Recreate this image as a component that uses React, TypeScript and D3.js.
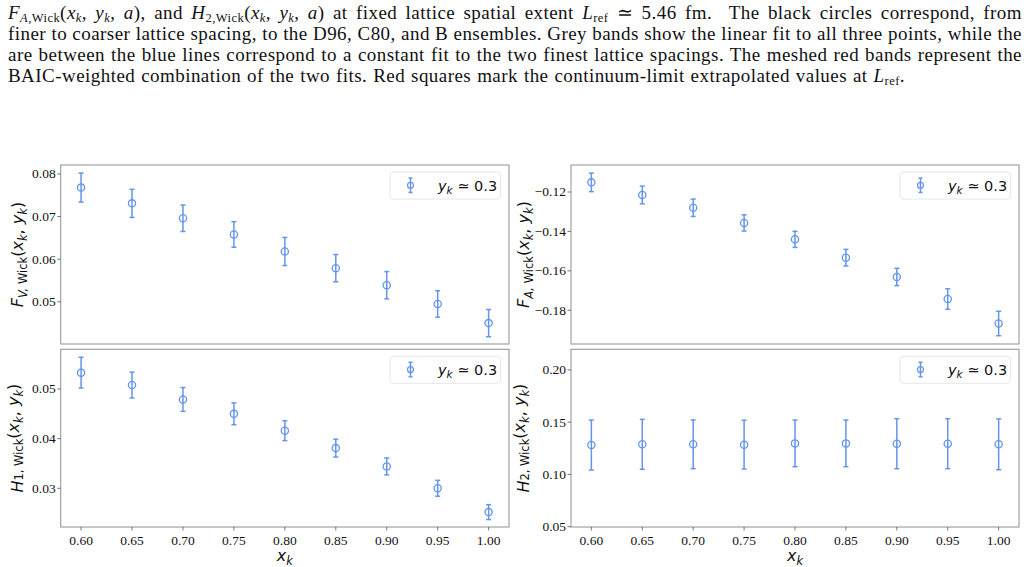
import React, { useLayoutEffect, useRef, useState } from "react";
import * as d3 from "d3";

const xk = [0.6, 0.65, 0.7, 0.75, 0.8, 0.85, 0.9, 0.95, 1.0];
const xTicks = [0.6, 0.65, 0.7, 0.75, 0.8, 0.85, 0.9, 0.95, 1.0];

const fvVals = [0.0768, 0.0731, 0.0696, 0.0658, 0.0618, 0.0579, 0.0539, 0.0495, 0.045];
const fvErr = [0.0034, 0.0033, 0.0031, 0.003, 0.0033, 0.0032, 0.0032, 0.0031, 0.0032];
const fvTicks = [0.05, 0.06, 0.07, 0.08];

const faVals = [-0.1151, -0.1215, -0.128, -0.1357, -0.144, -0.1533, -0.1631, -0.1743, -0.1867];
const faErr = [0.0047, 0.0045, 0.0044, 0.0041, 0.0041, 0.0042, 0.0044, 0.0052, 0.0062];
const faTicks = [-0.18, -0.16, -0.14, -0.12];

const h1Vals = [0.0533, 0.0508, 0.0479, 0.045, 0.0416, 0.0381, 0.0344, 0.03, 0.0252];
const h1Err = [0.0031, 0.0026, 0.0024, 0.0022, 0.002, 0.0018, 0.0017, 0.0016, 0.0015];
const h1Ticks = [0.03, 0.04, 0.05];

const h2Vals = [0.1281, 0.1288, 0.1288, 0.1285, 0.1297, 0.1297, 0.1294, 0.1294, 0.1288];
const h2Err = [0.0239, 0.0239, 0.0233, 0.0233, 0.0223, 0.0223, 0.0239, 0.0239, 0.0243];
const h2Ticks = [0.05, 0.1, 0.15, 0.2];

const legendLabel = "0.3";

type Seg = { t: string; it?: boolean; sub?: boolean };

const captionLines: Seg[][] = [
  [
    { t: "F", it: true }, { t: "A,", it: true, sub: true }, { t: "Wick", sub: true },
    { t: "(" }, { t: "x", it: true }, { t: "k", it: true, sub: true }, { t: ", " },
    { t: "y", it: true }, { t: "k", it: true, sub: true }, { t: ", " }, { t: "a", it: true },
    { t: "), and " },
    { t: "H", it: true }, { t: "2,Wick", sub: true },
    { t: "(" }, { t: "x", it: true }, { t: "k", it: true, sub: true }, { t: ", " },
    { t: "y", it: true }, { t: "k", it: true, sub: true }, { t: ", " }, { t: "a", it: true },
    { t: ") at fixed lattice spatial extent " },
    { t: "L", it: true }, { t: "ref", sub: true },
    { t: " \u2243 5.46 fm.  The black circles correspond, from" },
  ],
  [{ t: "finer to coarser lattice spacing, to the D96, C80, and B ensembles. Grey bands show the linear fit to all three points, while the" }],
  [{ t: "are between the blue lines correspond to a constant fit to the two finest lattice spacings. The meshed red bands represent the" }],
  [
    { t: "BAIC-weighted combination of the two fits. Red squares mark the continuum-limit extrapolated values at " },
    { t: "L", it: true }, { t: "ref", sub: true }, { t: "." },
  ],
];
const captionBaselines = [19, 40, 60.5, 81.5];
const captionWidths = [1014, 1014, 1014, 897];

const BLUE = "#6495ED";
const SPINE = "#9a9a9a";
const SERIF = "'Liberation Serif', 'Times New Roman', Times, serif";
const TICK_FS = 13.5;

function segTspans(segs: Seg[], base: number, subSize: number, subDy: number) {
  const out: React.ReactNode[] = [];
  let shifted = false;
  segs.forEach((s, i) => {
    let dy = 0;
    if (s.sub && !shifted) { dy = subDy; shifted = true; }
    else if (!s.sub && shifted) { dy = -subDy; shifted = false; }
    out.push(
      <tspan
        key={i}
        dy={dy || undefined}
        fontStyle={s.it ? "italic" : "normal"}
        fontSize={s.sub ? subSize : base}
      >
        {s.t}
      </tspan>
    );
  });
  return out;
}

type PanelProps = {
  x0: number; x1: number; y0: number; y1: number;
  yDomain: [number, number];
  yTicks: number[];
  yFmt: (v: number) => string;
  vals: number[]; errs: number[];
  showX: boolean;
  ylabelSegs: Seg[];
  ylabelX: number;
};

function Panel(p: PanelProps) {
  const xs = d3.scaleLinear().domain([0.58, 1.02]).range([p.x0, p.x1]);
  const ys = d3.scaleLinear().domain(p.yDomain).range([p.y1, p.y0]);
  const cap = 2.5;
  const lx1 = p.x1 - 8.5;
  const lx0 = lx1 - 110.5;
  const ly0 = p.y0 + 7;
  const lh = 27;
  const midY = (p.y0 + p.y1) / 2;
  return (
    <g>
      {xk.map((x, i) => {
        const cx = xs(x);
        const cy = ys(p.vals[i]);
        const top = ys(p.vals[i] + p.errs[i]);
        const bot = ys(p.vals[i] - p.errs[i]);
        return (
          <g key={i} stroke={BLUE} strokeWidth={1.5} fill="none">
            <line x1={cx} x2={cx} y1={top} y2={bot} />
            <line x1={cx - cap} x2={cx + cap} y1={top} y2={top} />
            <line x1={cx - cap} x2={cx + cap} y1={bot} y2={bot} />
            <circle cx={cx} cy={cy} r={3.6} strokeWidth={1.3} />
          </g>
        );
      })}
      <rect x={p.x0} y={p.y0} width={p.x1 - p.x0} height={p.y1 - p.y0} fill="none" stroke={SPINE} strokeWidth={1.1} />
      {p.yTicks.map((t) => (
        <g key={t}>
          <line x1={p.x0 - 3.5} x2={p.x0} y1={ys(t)} y2={ys(t)} stroke="#555" strokeWidth={0.8} />
          <text x={p.x0 - 5} y={ys(t)} dy="0.33em" textAnchor="end" fontFamily={SERIF} fontSize={TICK_FS} fill="#111">
            {p.yFmt(t)}
          </text>
        </g>
      ))}
      {p.showX &&
        xTicks.map((t) => (
          <g key={t}>
            <line x1={xs(t)} x2={xs(t)} y1={p.y1} y2={p.y1 + 3.5} stroke="#555" strokeWidth={0.8} />
            <text x={xs(t)} y={p.y1 + 18} textAnchor="middle" fontFamily={SERIF} fontSize={TICK_FS} fill="#111">
              {d3.format(".2f")(t)}
            </text>
          </g>
        ))}
      {p.showX && (
        <text x={(p.x0 + p.x1) / 2} y={p.y1 + 34} textAnchor="middle" fontFamily="'DejaVu Sans', sans-serif" fontSize={16} fill="#111">
          {segTspans([{ t: "x", it: true }, { t: "k", it: true, sub: true }], 16, 11.5, 4)}
        </text>
      )}
      <text
        transform={`translate(${p.ylabelX},${midY}) rotate(-90)`}
        textAnchor="middle"
        dy="0.35em"
        fontFamily="'DejaVu Sans', sans-serif"
        fontSize={16}
        fill="#111"
      >
        {segTspans(p.ylabelSegs, 16, 11.5, 4)}
      </text>
      <rect x={lx0} y={ly0} width={lx1 - lx0} height={lh} rx={3} fill="#fff" fillOpacity={0.85} stroke="#e6e6e6" strokeWidth={1} />
      <g stroke={BLUE} strokeWidth={1.5} fill="none">
        <line x1={lx0 + 20.5} x2={lx0 + 20.5} y1={ly0 + 6} y2={ly0 + 20.5} />
        <line x1={lx0 + 18.5} x2={lx0 + 22.5} y1={ly0 + 6} y2={ly0 + 6} />
        <line x1={lx0 + 18.5} x2={lx0 + 22.5} y1={ly0 + 20.5} y2={ly0 + 20.5} />
        <circle cx={lx0 + 20.5} cy={ly0 + 13.3} r={3} strokeWidth={1.2} />
      </g>
      <text x={lx0 + 48} y={ly0 + 18.5} fontFamily="'DejaVu Sans', sans-serif" fontSize={14.5} fill="#111">
        {segTspans(
          [{ t: "y", it: true }, { t: "k", it: true, sub: true }, { t: " \u2243 " + legendLabel }],
          14.5, 10.5, 3.5
        )}
      </text>
    </g>
  );
}

const ylab = (head: string, subIt: string, sub: string): Seg[] => [
  { t: head, it: true },
  { t: subIt, it: true, sub: true },
  { t: sub, sub: true },
  { t: "(" },
  { t: "x", it: true },
  { t: "k", it: true, sub: true },
  { t: ", " },
  { t: "y", it: true },
  { t: "k", it: true, sub: true },
  { t: ")" },
];

const CAP_FS = 19;
const CAP_LS = 0.45;

function Caption() {
  const refs = useRef<(SVGTextElement | null)[]>([]);
  const [spacing, setSpacing] = useState<number[]>(captionLines.map(() => 0));
  useLayoutEffect(() => {
    const sp = captionLines.map((segs, i) => {
      const el = refs.current[i];
      if (!el) return 0;
      const natural = el.getComputedTextLength();
      const text = segs.map((s) => s.t).join("");
      const nSpaces = (text.match(/ /g) || []).length;
      if (!nSpaces) return 0;
      return (captionWidths[i] - natural) / nSpaces;
    });
    setSpacing(sp);
  }, []);
  return (
    <g>
      {captionLines.map((segs, i) => (
        <text
          key={i}
          ref={(el) => { refs.current[i] = el; }}
          x={8}
          y={captionBaselines[i]}
          fontFamily={SERIF}
          fontSize={CAP_FS}
          fill="#111"
          style={{ wordSpacing: `${spacing[i]}px`, letterSpacing: `${CAP_LS}px`, whiteSpace: "pre" }}
        >
          {segTspans(segs, CAP_FS, 12.5, 3)}
        </text>
      ))}
    </g>
  );
}

export default function App() {
  const f2 = d3.format(".2f");
  return (
    <svg width={1029} height={567} style={{ position: "absolute", left: 0, top: 0, background: "#fff" }}>
      <Caption />
      <Panel x0={60.7} x1={509} y0={165} y1={344} yDomain={[0.0401, 0.0821]} yTicks={fvTicks} yFmt={f2}
        vals={fvVals} errs={fvErr} showX={false} ylabelSegs={ylab("F", "V,", " Wick")} ylabelX={17} />
      <Panel x0={571} x1={1019} y0={165} y1={344} yDomain={[-0.1971, -0.1063]} yTicks={faTicks} yFmt={f2}
        vals={faVals} errs={faErr} showX={false} ylabelSegs={ylab("F", "A,", " Wick")} ylabelX={523} />
      <Panel x0={60.7} x1={509} y0={349.3} y1={527} yDomain={[0.0222, 0.058]} yTicks={h1Ticks} yFmt={f2}
        vals={h1Vals} errs={h1Err} showX={true} ylabelSegs={ylab("H", "", "1, Wick")} ylabelX={17} />
      <Panel x0={571} x1={1019} y0={349.3} y1={527} yDomain={[0.0497, 0.2197]} yTicks={h2Ticks} yFmt={f2}
        vals={h2Vals} errs={h2Err} showX={true} ylabelSegs={ylab("H", "", "2, Wick")} ylabelX={523} />
    </svg>
  );
}
